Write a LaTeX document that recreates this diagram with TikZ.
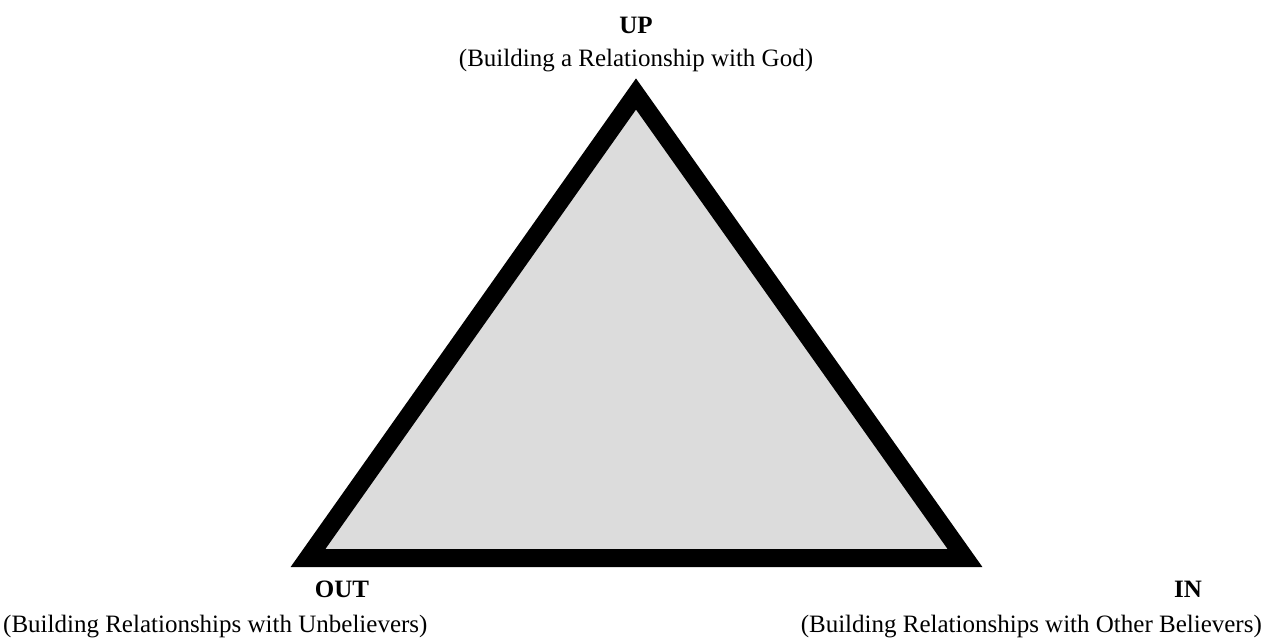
\documentclass[tikz,border=0pt]{standalone}
\usepackage{fontspec}
\setmainfont{Liberation Serif}
\definecolor{trigray}{RGB}{220,220,220}
\begin{document}
\begin{tikzpicture}[x=1pt,y=-1pt,
  lbl/.style={font=\fontsize{25}{29}\selectfont\bfseries, anchor=base, inner sep=0pt},
  sub/.style={font=\fontsize{25}{29}\selectfont, anchor=base, inner sep=0pt},
  tri/.style={draw=black, line width=18pt, fill=trigray, line join=miter}]
\useasboundingbox (0,0) rectangle (1266,641);
% triangle corners
\coordinate (apex) at (636,94);
\coordinate (bl) at (308,558);
\coordinate (br) at (965,558);
\draw[tri] (apex) -- (br) -- (bl) -- cycle;
% corner labels
\node[lbl] (up) at (636,33) {UP};
\node[sub] (upsub) at (636,66) {(Building a Relationship with God)};
\node[lbl] (out) at (342,597) {OUT};
\node[sub, anchor=base west] (outsub) at (3,632) {(Building Relationships with Unbelievers)};
\node[lbl] (in) at (1188,597) {IN};
\node[sub, anchor=base east] (insub) at (1262,632) {(Building Relationships with Other Believers)};
\end{tikzpicture}
\end{document}
